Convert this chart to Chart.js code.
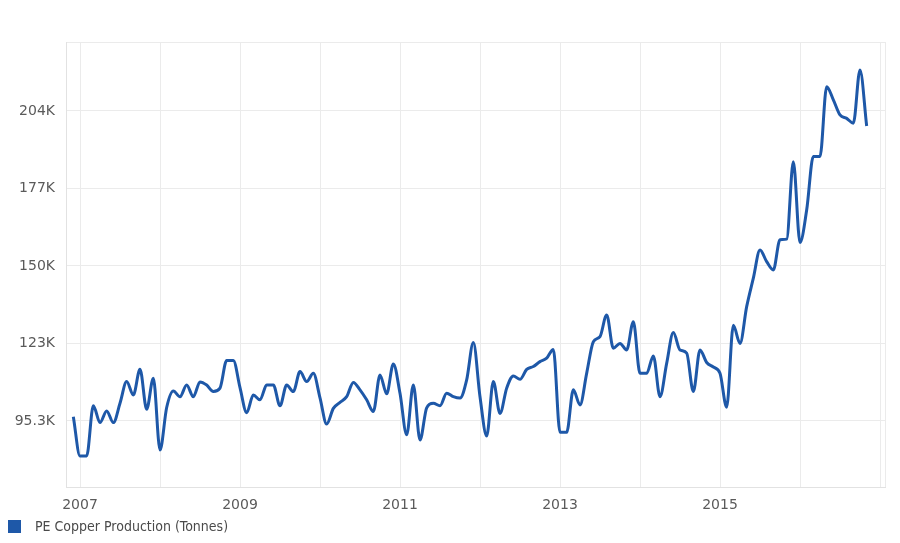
<!DOCTYPE html>
<html>
<head>
<meta charset="utf-8">
<script src="https://cdn.jsdelivr.net/npm/chart.js@4.4.1/dist/chart.umd.min.js"></script>
<style>
  html, body { margin: 0; padding: 0; background: #ffffff; }
  #wrap { width: 900px; height: 543px; position: relative; }
</style>
</head>
<body>
<div id="wrap"><canvas id="c"></canvas></div>
<script>
// ---- data (thousand tonnes), monthly from Dec 2006 ----
const seriesName = 'PE Copper Production (Tonnes)';
const firstMonth = '2006-12';
const production = [
  96.8, 83.0, 83.0, 100.6, 94.7, 98.8, 94.7, 101.5, 109.1, 104.4, 113.4, 99.4, 110.3,
  85.1, 100.0, 105.8, 103.8, 107.9, 103.8, 109.0, 107.9, 105.6, 106.8, 116.5, 116.5,
  107.0, 98.2, 104.4, 102.7, 107.9, 107.9, 100.6, 107.9, 105.6, 112.6, 109.1, 112.0,
  103.4, 94.2, 99.7, 101.8, 103.8, 108.8, 106.2, 102.7, 98.6, 111.4, 104.8, 115.3,
  105.0, 90.4, 107.9, 88.6, 99.9, 101.5, 100.6, 105.0, 103.8, 103.3, 109.7, 122.8,
  103.8, 90.0, 109.1, 97.9, 106.8, 111.1, 109.9, 113.4, 114.4, 116.1, 117.3, 120.4,
  91.3, 91.3, 106.2, 100.9, 112.0, 123.1, 124.9, 132.5, 120.8, 122.5, 120.2, 130.1,
  112.0, 112.0, 118.1, 103.8, 115.5, 126.3, 120.2, 119.1, 105.6, 120.2, 115.8, 114.2,
  112.0, 100.1, 128.9, 122.5, 135.4, 145.4, 155.3, 151.2, 148.3, 158.9, 159.1, 186.3,
  157.9, 169.3, 188.1, 188.1, 212.6, 208.0, 202.7, 201.5, 199.8, 218.5, 198.8
];
const yTickValues = [95.3, 122.5, 149.7, 176.9, 204.1];
const yTickLabels = ['95.3K', '123K', '150K', '177K', '204K'];
const xTickYears = [2007, 2008, 2009, 2010, 2011, 2012, 2013, 2014, 2015, 2016, 2017];
const xLabelYears = [2007, 2009, 2011, 2013, 2015];

// ---- build points: x = months since Jan 2007 ----
const baseYear = xTickYears[0];
const [fy, fm] = firstMonth.split('-').map(Number);
const startIndex = (fy - baseYear) * 12 + (fm - 1);
const points = production.map((v, i) => ({ x: startIndex + i, y: v }));
const xTicks = xTickYears.map(y => (y - baseYear) * 12);

const X_MIN = -2.1, X_MAX = 120.75;
const Y_MIN = 72.1, Y_MAX = 228.3;
const LINE_COLOR = '#1e58a8';
const TEXT_COLOR = '#5a5a5a';
const GRID_COLOR = '#ebebeb';

new Chart(document.getElementById('c'), {
  type: 'line',
  data: {
    datasets: [{
      label: seriesName,
      data: points,
      borderColor: LINE_COLOR,
      backgroundColor: LINE_COLOR,
      borderWidth: 3,
      pointRadius: 0,
      pointHoverRadius: 0,
      fill: false,
      cubicInterpolationMode: 'monotone'
    }]
  },
  options: {
    responsive: true,
    maintainAspectRatio: false,
    animation: false,
    events: [],
    layout: { padding: { left: 0, right: 15, top: 42, bottom: 28 } },
    plugins: {
      tooltip: { enabled: false },
      legend: { display: false }
    },
    scales: {
      x: {
        type: 'linear',
        min: X_MIN,
        max: X_MAX,
        afterBuildTicks: (s) => { s.ticks = xTicks.map(v => ({ value: v })); },
        afterFit: (s) => { s.height = 28; },
        ticks: {
          autoSkip: false,
          maxRotation: 0,
          padding: 10,
          color: TEXT_COLOR,
          font: { family: 'DejaVu Sans', size: 14 },
          callback: (v) => {
            const yr = baseYear + Math.round(v / 12);
            return xLabelYears.includes(yr) ? String(yr) : '';
          }
        },
        grid: { color: GRID_COLOR, lineWidth: 1, drawTicks: false },
        border: { color: '#e2e2e2', width: 1 }
      },
      y: {
        type: 'linear',
        min: Y_MIN,
        max: Y_MAX,
        afterBuildTicks: (s) => {
          s.ticks = yTickValues.map(v => ({ value: v })).concat([{ value: Y_MAX }]);
        },
        afterFit: (s) => { s.width = 66; },
        ticks: {
          padding: 11,
          color: TEXT_COLOR,
          font: { family: 'DejaVu Sans', size: 14 },
          callback: (v) => {
            const k = yTickValues.indexOf(v);
            return k >= 0 ? yTickLabels[k] : '';
          }
        },
        grid: { color: GRID_COLOR, lineWidth: 1, drawTicks: false },
        border: { color: '#e2e2e2', width: 1 }
      }
    }
  },
  plugins: [{
    id: 'edgeAndLegend',
    afterDraw(chart) {
      const { ctx, chartArea } = chart;
      ctx.save();
      // right plot edge
      ctx.strokeStyle = GRID_COLOR;
      ctx.lineWidth = 1;
      ctx.beginPath();
      ctx.moveTo(Math.round(chartArea.right) + 0.5, chartArea.top);
      ctx.lineTo(Math.round(chartArea.right) + 0.5, chartArea.bottom);
      ctx.stroke();
      // legend (bottom-left)
      const ds = chart.data.datasets[0];
      const ly = chart.height - 16;
      ctx.fillStyle = ds.borderColor;
      ctx.fillRect(8, ly - 7, 13, 13);
      ctx.fillStyle = '#4a4a4a';
      ctx.font = '14px "DejaVu Sans Condensed", "DejaVu Sans"';
      ctx.textBaseline = 'middle';
      ctx.textAlign = 'left';
      ctx.fillText(ds.label, 35, ly);
      ctx.restore();
    }
  }]
});
</script>
</body>
</html>
